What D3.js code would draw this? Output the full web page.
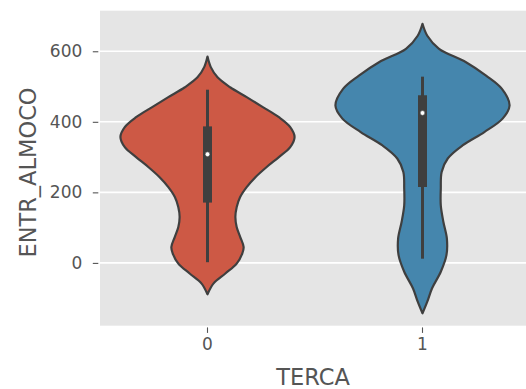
<!DOCTYPE html>
<html>
<head>
<meta charset="utf-8">
<script src="https://cdn.jsdelivr.net/npm/d3@7"></script>
<style>
  html, body { margin: 0; padding: 0; background: #ffffff; }
  svg { display: block; }
  text { font-family: "DejaVu Sans", sans-serif; fill: #555555; }
</style>
</head>
<body>
<svg id="chart" width="526" height="389"></svg>
<script>
// Categories on the x axis
const categories = ["0", "1"];
const fillColors = ["#cd5945", "#4586ad"];

// Kernel density outline per category: sample values and relative density
const values0 = [585, 555, 526, 498, 470, 441, 413, 385, 357, 328, 300, 272, 243, 215, 187, 158, 130, 102, 74, 45, 27, -2, -30, -58, -89];
const density0 = [0, 0.038, 0.115, 0.26, 0.45, 0.64, 0.82, 0.95, 1.0, 0.95, 0.82, 0.68, 0.55, 0.45, 0.375, 0.335, 0.32, 0.335, 0.375, 0.415, 0.40, 0.335, 0.205, 0.07, 0];

const values1 = [678, 644, 607, 569, 531, 494, 446, 409, 371, 333, 296, 258, 211, 163, 116, 69, 22, -25, -72, -110, -143];
const density1 = [0, 0.055, 0.19, 0.50, 0.73, 0.91, 1.0, 0.92, 0.71, 0.46, 0.29, 0.22, 0.21, 0.21, 0.24, 0.28, 0.275, 0.21, 0.11, 0.055, 0];

// Inner box summary per category
const whiskerLow = [2, 12];
const quartile1 = [171, 215];
const medians = [308, 425];
const quartile3 = [387, 475];
const whiskerHigh = [491, 528];

// Axis ticks and titles
const yTicks = [0, 200, 400, 600];
const xTitle = "TERCA";
const yTitle = "ENTR_ALMOCO";

const outlines = [
  { values: values0, density: density0 },
  { values: values1, density: density1 }
];

const svg = d3.select("#chart");
const plot = { left: 100, right: 530, top: 10.7, bottom: 325.7 };

const x = d3.scaleBand().domain(categories).range([plot.left, plot.right]);
const y = d3.scaleLinear().domain([-178, 715]).range([plot.bottom, plot.top]);
const maxDensity = d3.max([...density0, ...density1]);
const halfWidth = d3.scaleLinear().domain([0, maxDensity]).range([0, 0.405 * x.bandwidth()]);
const center = c => x(c) + x.bandwidth() / 2;
const gray = "#3f3f3f";

// Panel background and white horizontal grid
svg.append("rect")
  .attr("x", plot.left).attr("y", plot.top)
  .attr("width", plot.right - plot.left).attr("height", plot.bottom - plot.top)
  .attr("fill", "#e5e5e5");

svg.append("g").selectAll("line").data(yTicks).join("line")
  .attr("x1", plot.left).attr("x2", plot.right)
  .attr("y1", d => y(d)).attr("y2", d => y(d))
  .attr("stroke", "#ffffff").attr("stroke-width", 1.6);

// Y axis
const yAxis = d3.axisLeft(y).tickValues(yTicks).tickSize(5.5).tickPadding(10.5).tickFormat(d3.format("d"));
const gy = svg.append("g").attr("transform", `translate(${plot.left - 1.7},0)`).call(yAxis);
gy.select(".domain").remove();
gy.selectAll(".tick line").attr("stroke", "#555555").attr("stroke-width", 1.1);
gy.selectAll(".tick text").attr("font-size", 17).style("fill", "#555555");

// X axis
const xAxis = d3.axisBottom(x).tickSize(5.5).tickPadding(5);
const gx = svg.append("g").attr("transform", `translate(0,${plot.bottom + 1.7})`).call(xAxis);
gx.select(".domain").remove();
gx.selectAll(".tick line").attr("stroke", "#555555").attr("stroke-width", 1.1);
gx.selectAll(".tick text").attr("font-size", 17).style("fill", "#555555");

// Violins, smoothed through the density samples
const violins = svg.append("g");
categories.forEach((c, i) => {
  const pts = outlines[i].values.map((v, k) => ({ v, d: outlines[i].density[k] }));
  const area = d3.area()
    .y(p => y(p.v))
    .x0(p => center(c) - halfWidth(p.d))
    .x1(p => center(c) + halfWidth(p.d))
    .curve(d3.curveCatmullRom.alpha(0.5));
  violins.append("path")
    .attr("d", area(pts))
    .attr("fill", fillColors[i])
    .attr("stroke", gray)
    .attr("stroke-width", 2.2)
    .attr("stroke-linejoin", "round");
});

// Inner box: whisker, interquartile bar, median dot
const inner = svg.append("g");
inner.selectAll("line.whisker").data(categories).join("line")
  .attr("class", "whisker")
  .attr("x1", c => center(c)).attr("x2", c => center(c))
  .attr("y1", (c, i) => y(whiskerLow[i])).attr("y2", (c, i) => y(whiskerHigh[i]))
  .attr("stroke", gray).attr("stroke-width", 3);
inner.selectAll("line.box").data(categories).join("line")
  .attr("class", "box")
  .attr("x1", c => center(c)).attr("x2", c => center(c))
  .attr("y1", (c, i) => y(quartile1[i])).attr("y2", (c, i) => y(quartile3[i]))
  .attr("stroke", gray).attr("stroke-width", 9);
inner.selectAll("circle").data(categories).join("circle")
  .attr("cx", c => center(c))
  .attr("cy", (c, i) => y(medians[i]))
  .attr("r", 2.4)
  .attr("fill", "#ffffff")
  .attr("stroke", gray).attr("stroke-width", 0.6);

// Axis titles
svg.append("text")
  .attr("x", (plot.left + plot.right) / 2 - 2)
  .attr("y", 385)
  .attr("text-anchor", "middle")
  .attr("font-size", 22.5)
  .text(xTitle);

svg.append("text")
  .attr("transform", `translate(35.5,172.5) rotate(-90)`)
  .attr("text-anchor", "middle")
  .attr("font-size", 22.5)
  .text(yTitle);
</script>
</body>
</html>
